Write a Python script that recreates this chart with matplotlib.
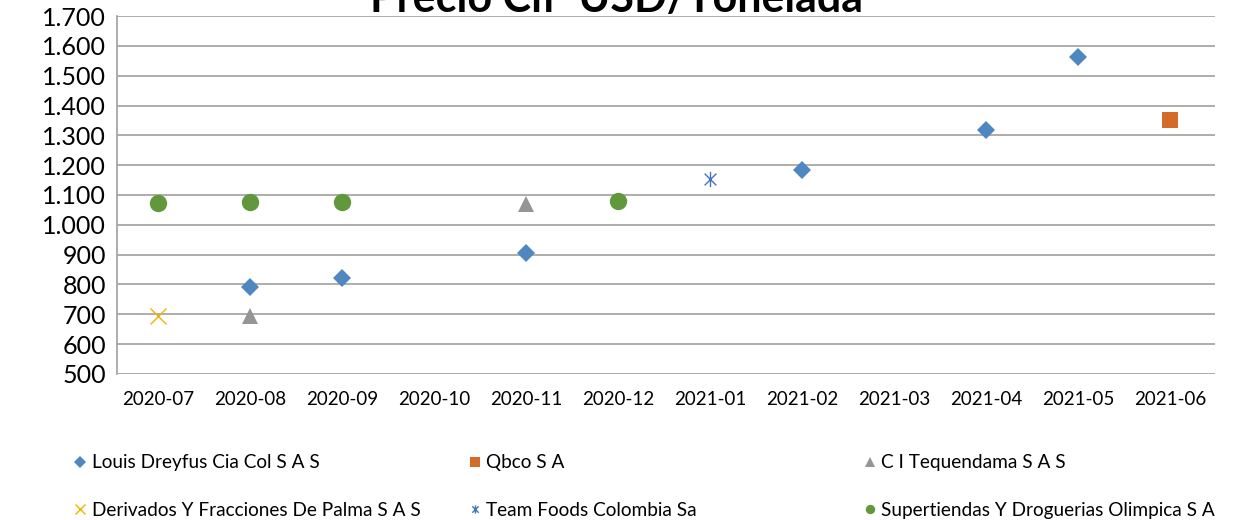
import matplotlib.pyplot as plt
import numpy as np
from matplotlib.path import Path
from matplotlib.lines import Line2D
from matplotlib.ticker import FuncFormatter, MultipleLocator

plt.rcParams['font.family'] = ['Lato', 'DejaVu Sans']

months = ['2020-07', '2020-08', '2020-09', '2020-10', '2020-11', '2020-12',
          '2021-01', '2021-02', '2021-03', '2021-04', '2021-05', '2021-06']

# (month, price) per company
dreyfus_m = ['2020-08', '2020-09', '2020-11', '2021-02', '2021-04', '2021-05']
dreyfus_v = [790, 822, 906, 1185, 1318, 1563]
qbco_m = ['2021-06']
qbco_v = [1351]
tequendama_m = ['2020-08', '2020-11']
tequendama_v = [694, 1070]
derivados_m = ['2020-07']
derivados_v = [695]
teamfoods_m = ['2021-01']
teamfoods_v = [1155]
olimpica_m = ['2020-07', '2020-08', '2020-09', '2020-12']
olimpica_v = [1073, 1077, 1077, 1081]

# excel style "star" marker: X with a vertical stroke
star = Path([(-1, -1), (1, 1), (-1, 1), (1, -1), (0, -1.3), (0, 1.3)],
            [Path.MOVETO, Path.LINETO, Path.MOVETO, Path.LINETO, Path.MOVETO, Path.LINETO])

series = [
    ('Louis Dreyfus Cia Col S A S', dreyfus_m, dreyfus_v, 'D', '#4f87c0', 9.5, 8.5),
    ('Qbco S A', qbco_m, qbco_v, 's', '#d56b29', 11, 9),
    ('C I Tequendama S A S', tequendama_m, tequendama_v, '^', '#959595', 12, 9),
    ('Derivados Y Fracciones De Palma S A S', derivados_m, derivados_v, 'x', '#f0b400', 12, 9),
    ('Team Foods Colombia Sa', teamfoods_m, teamfoods_v, star, '#4472c4', 11, 8),
    ('Supertiendas Y Droguerias Olimpica S A', olimpica_m, olimpica_v, 'o', '#62983c', 12.5, 9),
]

fig = plt.figure(figsize=(12.41, 5.20), dpi=100)
ax = fig.add_axes([0.0943, 0.2808, 0.8847, 0.6884])

handles = []
for name, m, v, mk, col, ms, lms in series:
    x = [months.index(k) for k in m]
    lined = mk == 'x' or mk is star
    ax.plot(x, v, linestyle='none', marker=mk, markersize=ms, color=col,
            markeredgewidth=1.0 if lined else 0)
    handles.append(Line2D([], [], linestyle='none', marker=mk, markersize=lms * 0.75,
                          color=col, markeredgewidth=1.0 if lined else 0, label=name))

ax.set_xlim(-0.446, 11.49)
ax.set_ylim(500, 1700)
ax.yaxis.set_major_locator(MultipleLocator(100))
ax.yaxis.set_major_formatter(FuncFormatter(lambda y, p: '{:,.0f}'.format(y).replace(',', '.')))
ax.set_xticks(range(len(months)))
ax.set_xticklabels(months)
ax.grid(axis='y', color='#a0a0a0', linewidth=1.2)
ax.set_axisbelow(True)
for s in ['top', 'right', 'bottom']:
    ax.spines[s].set_visible(False)
ax.spines['left'].set_color('#a0a0a0')
ax.spines['left'].set_linewidth(1.2)
ax.tick_params(axis='y', length=0, labelsize=18, pad=8)
ax.tick_params(axis='x', length=0, labelsize=13.5, pad=12)

fig.text(0.497, 1 - 12.5 / 520, 'Precio Cif  USD/Tonelada', ha='center', va='baseline',
         fontsize=31, fontweight='bold')

# legend: three columns of equal width, row-wise order
col_x = [0.054, 0.372, 0.69]
for i in range(3):
    fig.legend(handles=[handles[i], handles[i + 3]], loc='upper left',
               bbox_to_anchor=(col_x[i], 0.141), frameon=False, fontsize=13.7,
               handlelength=0.6, handletextpad=0.3, labelspacing=1.6,
               borderaxespad=0)

fig.savefig('out.png', dpi=100)
